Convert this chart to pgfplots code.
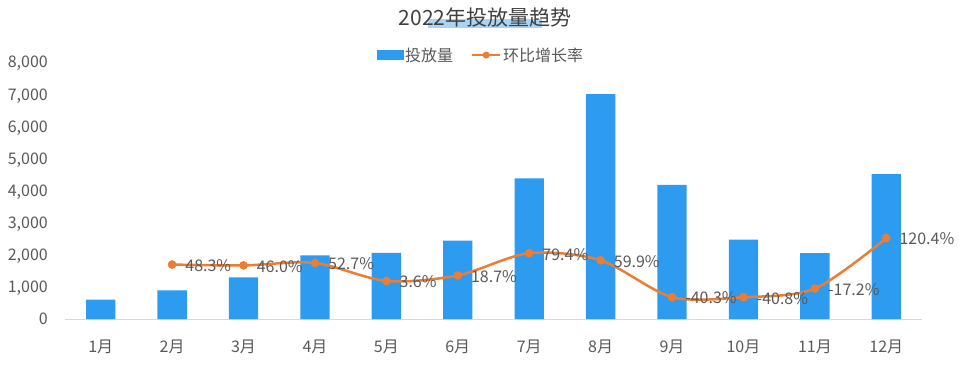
\documentclass[border=0pt]{standalone}
\usepackage{fontspec}
\setmainfont{Noto Sans CJK SC}
\usepackage{pgfplots}
\pgfplotsset{compat=1.18}
\usepackage{pgfplotstable}
\definecolor{barblue}{HTML}{2D9BF0}
\definecolor{lineorange}{HTML}{ED7D31}
\definecolor{txtgray}{HTML}{595959}
\definecolor{titlegray}{HTML}{404040}
\definecolor{axgray}{HTML}{D9D9D9}
\definecolor{hl}{HTML}{A9D4F5}
\newcommand\fs{\fontsize{16pt}{19pt}\selectfont}

\pgfplotstableread{
x v
0 600
1 890
2 1299
3 1984
4 2055
5 2440
6 4377
7 6999
8 4178
9 2473
10 2048
11 4513
}\bars

\pgfplotstableread{
x r lab
1 48.3 48.3\%
2 46.0 46.0\%
3 52.7 52.7\%
4 3.6 3.6\%
5 18.7 18.7\%
6 79.4 79.4\%
7 59.9 59.9\%
8 -40.3 -40.3\%
9 -40.8 -40.8\%
10 -17.2 -17.2\%
11 120.4 120.4\%
}\rates

\begin{document}
\begin{tikzpicture}
\useasboundingbox (0pt,0pt) rectangle (960pt,391pt);
\fill[hl] (428pt,363pt) rectangle (542pt,372pt);
\node[font=\fontsize{21pt}{25pt}\selectfont, text=titlegray, anchor=base, inner sep=0pt] at (485pt,365pt) {2022年投放量趋势};

\begin{axis}[
  at={(65pt,72pt)}, anchor=south west,
  scale only axis, width=857pt, height=257pt,
  xmin=-0.5, xmax=11.5, ymin=0, ymax=8000,
  ytick={0,1000,...,8000},
  xtick={0,...,11},
  xticklabels={1月,2月,3月,4月,5月,6月,7月,8月,9月,10月,11月,12月},
  axis x line=bottom, axis y line=left,
  axis line style={-},
  x axis line style={draw=axgray, line width=1pt},
  y axis line style={draw=none},
  major tick length=0pt,
  tick label style={font=\fs, text=txtgray},
  /pgf/number format/.cd, 1000 sep={,}, assume math mode=true, /pgfplots/.cd,
  yticklabel style={anchor=base east, inner sep=0pt, xshift=-17pt, yshift=-5.9pt},
  xticklabel style={anchor=base, inner sep=0pt, yshift=-33pt},
  ybar, bar width=29.3pt,
  clip=false,
]
\addplot[fill=barblue, draw=none] table[x=x,y=v]{\bars};
\end{axis}

\begin{axis}[
  at={(65pt,72pt)}, anchor=south west,
  scale only axis, width=857pt, height=257pt,
  xmin=-0.5, xmax=11.5, ymin=-100, ymax=600,
  hide axis, clip=false,
  legend columns=2,
  legend style={at={(0.4854,1.027)}, anchor=center, draw=none, fill=none,
    font=\fs, text=txtgray, inner sep=0pt,
    /tikz/every even column/.append style={column sep=16pt}},
]
\addlegendimage{legend image code/.code={\fill[barblue] (0pt,-4.6pt) rectangle (26pt,4.6pt);}}
\addlegendentry{投放量}
\addplot[lineorange, line width=2.5pt, smooth, tension=0.5,
  mark=*, mark size=3pt, mark options={solid, fill=lineorange},
  nodes near coords, point meta=explicit symbolic,
  every node near coord/.append style={anchor=base west, xshift=12pt, yshift=-6.9pt,
    inner sep=0pt, font=\fs, text=txtgray},
  legend image code/.code={\draw[lineorange,line width=2pt] (0pt,0pt) -- (28pt,0pt); \fill[lineorange] (14pt,0pt) circle (2.2pt);}
] table[x=x,y=r,meta=lab]{\rates};
\addlegendentry{环比增长率}
\end{axis}
\end{tikzpicture}
\end{document}
